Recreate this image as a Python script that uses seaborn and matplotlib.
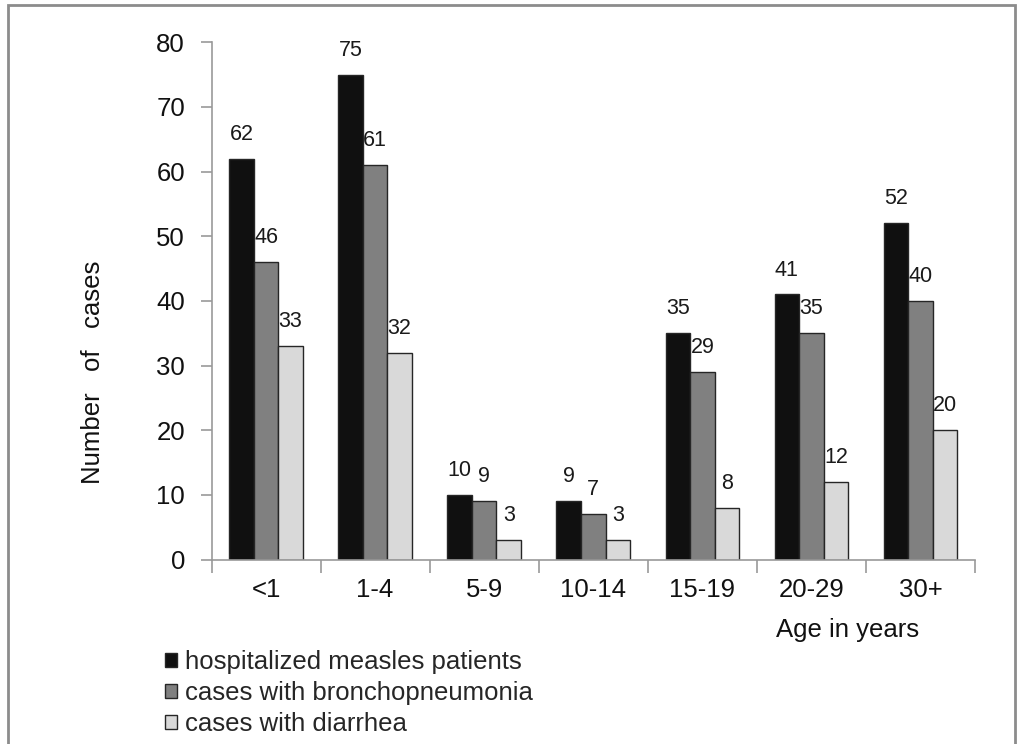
import matplotlib
matplotlib.use("Agg")
import matplotlib.pyplot as plt
import seaborn as sns
import pandas as pd
from matplotlib.patches import Rectangle

categories = ["<1", "1-4", "5-9", "10-14", "15-19", "20-29", "30+"]
series_names = ["hospitalized measles patients", "cases with bronchopneumonia", "cases with diarrhea"]
hospitalized = [62, 75, 10, 9, 35, 41, 52]
bronchopneumonia = [46, 61, 9, 7, 29, 35, 40]
diarrhea = [33, 32, 3, 3, 8, 12, 20]
y_ticks = [0, 10, 20, 30, 40, 50, 60, 70, 80]

sns.set_style("white")
plt.rcParams["font.family"] = ["Liberation Sans", "DejaVu Sans"]

rows = []
for name, vals in zip(series_names, [hospitalized, bronchopneumonia, diarrhea]):
    for c, v in zip(categories, vals):
        rows.append({"Age": c, "Series": name, "Cases": v})
df = pd.DataFrame(rows)

W, H = 1024, 744
FS = 18.5
fig = plt.figure(figsize=(W / 100, H / 100), dpi=100)
ax = fig.add_axes([211.5 / W, 1 - 559.5 / H, (975 - 211.5) / W, (559.5 - 42.3) / H])

palette = {series_names[0]: "#101010", series_names[1]: "#808080", series_names[2]: "#d9d9d9"}
sns.barplot(data=df, x="Age", y="Cases", hue="Series", order=categories, hue_order=series_names,
            palette=palette, width=0.674, gap=0, edgecolor="#262626", linewidth=1.0,
            saturation=1, ax=ax, errorbar=None)

for cont in ax.containers:
    ax.bar_label(cont, padding=10, fontsize=15.5, color="#1a1a1a")

ax.set_ylim(0, 80)
ax.set_xlim(-0.5, len(categories) - 0.5)
ax.set_yticks(y_ticks)
ax.set_xticks(range(len(categories)))
ax.set_xticks([i - 0.5 for i in range(len(categories) + 1)], minor=True)
ax.tick_params(axis="x", which="major", length=0, pad=13, labelsize=FS, labelcolor="#111111")
ax.tick_params(axis="x", which="minor", length=9, width=1.2, color="#999999", direction="out", bottom=True)
ax.tick_params(axis="y", which="major", length=8, width=1.2, color="#999999", direction="out",
               left=True, pad=11, labelsize=FS, labelcolor="#111111")
ax.set_xlabel("")
ax.set_ylabel("")
for s in ["top", "right"]:
    ax.spines[s].set_visible(False)
for s in ["left", "bottom"]:
    ax.spines[s].set_color("#999999")
    ax.spines[s].set_linewidth(1.2)

fig.text(848 / W, 1 - 630 / H, "Age in years", ha="center", va="center", fontsize=FS, color="#111111")
fig.text(93 / W, 1 - 372 / H, "Number   of   cases", ha="center", va="center", rotation=90,
         fontsize=FS, color="#111111")

handles, labels = ax.get_legend_handles_labels()
if ax.legend_:
    ax.legend_.remove()
fig.legend(handles, labels, loc="upper left", bbox_to_anchor=(165 / W, 1 - 650 / H),
           frameon=False, fontsize=FS, handlelength=0.48, handleheight=0.48, handletextpad=0.3,
           labelspacing=0.28, borderaxespad=0, borderpad=0)

fig.patches.append(Rectangle((8 / W, -0.05), (1015 - 8) / W, 1.05 - 5 / H, transform=fig.transFigure,
                             fill=False, edgecolor="#8c8c8c", linewidth=2))

fig.savefig("out.png", dpi=100)
